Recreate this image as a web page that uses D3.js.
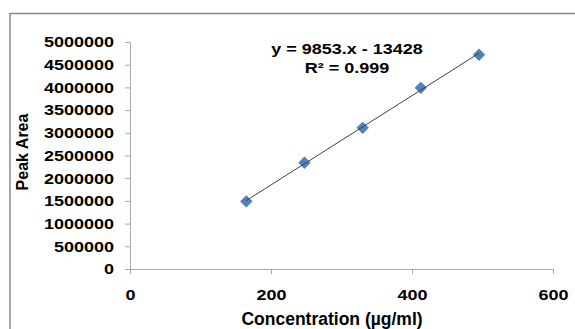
<!DOCTYPE html>
<html>
<head>
<meta charset="utf-8">
<script src="https://cdn.jsdelivr.net/npm/d3@7"></script>
<style>
  body { margin: 0; background: #fff; }
  text { font-family: "Liberation Sans", Arial, sans-serif; font-weight: bold; fill: #000; }
</style>
</head>
<body>
<div id="chart"></div>
<script>
(function(){
  // values
  const concentration = [165, 247.5, 330, 412.5, 495];
  const peakArea = [1490000, 2340000, 3110000, 3990000, 4720000];
  const xTickValues = [0, 200, 400, 600];
  const yTickValues = [0, 500000, 1000000, 1500000, 2000000, 2500000, 3000000, 3500000, 4000000, 4500000, 5000000];
  const equationLines = ["y = 9853.x - 13428", "R\u00b2 = 0.999"];
  const xTitle = "Concentration (\u00b5g/ml)";
  const yTitle = "Peak Area";

  const width = 575, height = 329;
  const stretch = 1.2; // tick labels look wide in the original

  const svg = d3.select("#chart").append("svg")
    .attr("width", width)
    .attr("height", height);

  // chart area frame (runs off the right and bottom)
  svg.append("rect")
    .attr("x", 10).attr("y", 13.5)
    .attr("width", 700).attr("height", 400)
    .attr("fill", "none")
    .attr("stroke", "#8a8a8a")
    .attr("stroke-width", 1.5);

  const x = d3.scaleLinear().domain([0, 600]).range([130, 553]);
  const y = d3.scaleLinear().domain([0, 5000000]).range([269, 42]);

  // y axis
  const yAxis = svg.append("g")
    .attr("transform", `translate(${x(0)},0)`)
    .call(d3.axisLeft(y).tickValues(yTickValues).tickFormat(d3.format("d")).tickSize(5).tickSizeOuter(0));
  yAxis.selectAll("path, line").attr("stroke", "#a8a8a8");
  yAxis.selectAll("text")
    .attr("font-size", 15)
    .attr("font-family", null)
    .attr("x", -16 / stretch)
    .attr("transform", `scale(${stretch},1)`);

  // x axis
  const xAxis = svg.append("g")
    .attr("transform", `translate(0,${y(0)})`)
    .call(d3.axisBottom(x).tickValues(xTickValues).tickSize(5).tickSizeOuter(0));
  xAxis.selectAll("path, line").attr("stroke", "#a8a8a8");
  xAxis.selectAll("text")
    .attr("font-size", 15)
    .attr("font-family", null)
    .attr("y", 20)
    .attr("transform", `scale(${stretch},1)`);
  yAxis.attr("font-family", null);
  xAxis.attr("font-family", null);

  // axis titles
  svg.append("text")
    .attr("x", 332).attr("y", 325)
    .attr("text-anchor", "middle")
    .attr("font-size", 17.5)
    .text(xTitle);

  svg.append("text")
    .attr("transform", "translate(28,152) rotate(-90)")
    .attr("text-anchor", "middle")
    .attr("font-size", 16)
    .text(yTitle);

  const points = concentration.map((c, i) => ({ x: c, y: peakArea[i] }));

  // markers
  svg.append("g").selectAll("path")
    .data(points)
    .enter()
    .append("path")
    .attr("d", d3.symbol().type(d3.symbolSquare).size(70))
    .attr("transform", d => `translate(${x(d.x)},${y(d.y)}) rotate(45)`)
    .attr("fill", "#4f81bd")
    .attr("stroke", "#4a7ebb")
    .attr("stroke-width", 0.5);

  // linear trendline, least squares over the points
  const mx = d3.mean(points, d => d.x), my = d3.mean(points, d => d.y);
  const slope = d3.sum(points, d => (d.x - mx) * (d.y - my)) / d3.sum(points, d => (d.x - mx) ** 2);
  const intercept = my - slope * mx;
  const ends = d3.extent(concentration).map(c => ({ x: c, y: slope * c + intercept }));

  svg.append("path")
    .datum(ends)
    .attr("d", d3.line().x(d => x(d.x)).y(d => y(d.y)))
    .attr("fill", "none")
    .attr("stroke", "#404040")
    .attr("stroke-width", 1);

  // equation label
  svg.append("g").selectAll("text")
    .data(equationLines)
    .enter()
    .append("text")
    .attr("transform", (d, i) => `translate(347,${54 + i * 18.5}) scale(${stretch},1)`)
    .attr("text-anchor", "middle")
    .attr("font-size", 15)
    .text(d => d);
})();
</script>
</body>
</html>
